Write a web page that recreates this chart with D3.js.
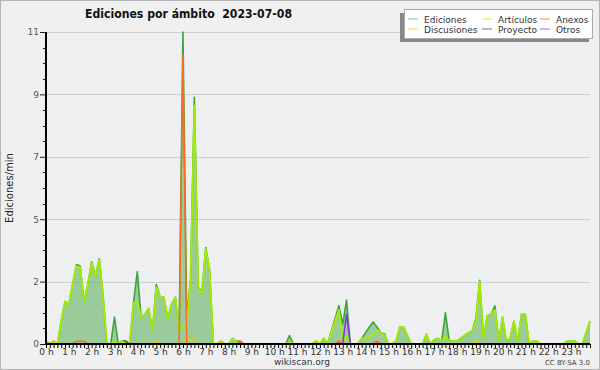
<!DOCTYPE html>
<html>
<head>
<meta charset="utf-8">
<script src="https://cdn.jsdelivr.net/npm/d3@7"></script>
<style>
  body { margin: 0; background: #fff; }
  svg { display: block; }
</style>
</head>
<body>
<script>
var width = 600, height = 370;

// one value every 10 minutes, 00:00 .. 23:50 (edits per minute)
var ediciones = [
  0.1, 0, 0.1, 0, 0.8, 1.5,
  1.4, 2.1, 2.8, 2.75, 1.5, 2.1,
  2.9, 2.4, 3.0, 1.7, 0, 0,
  0.95, 0, 0.1, 0.1, 0, 1.45,
  2.55, 0.95, 1.05, 1.25, 0.5, 2.1,
  1.65, 1.65, 0.9, 1.4, 1.65, 0.45,
  11, 0.9, 2.3, 8.7, 2.0, 1.85,
  3.4, 2.6, 0, 0, 0.1, 0,
  0, 0.2, 0.1, 0.1, 0, 0,
  0, 0, 0, 0, 0, 0,
  0, 0, 0, 0, 0.3, 0,
  0, 0, 0, 0, 0, 0.1,
  0, 0.2, 0, 0.45, 0.9, 1.35,
  0.7, 1.55, 0, 0, 0, 0.2,
  0.4, 0.6, 0.78, 0.6, 0.4, 0.35,
  0, 0, 0.1, 0.6, 0.6, 0.3,
  0, 0, 0, 0, 0.35, 0,
  0.15, 0.2, 0.1, 1.1, 0.1, 0.1,
  0.1, 0.2, 0.3, 0.4, 0.45, 0.9,
  2.25, 0.2, 1.0, 1.05, 1.35, 0.1,
  0.95, 0.1, 0.2, 0.8, 0.1, 1.05,
  1.05, 0, 0.1, 0.1, 0, 0,
  0, 0, 0, 0, 0, 0.1,
  0.1, 0.1, 0, 0, 0.4, 0.8
];
var articulos = [
  0.1, 0, 0, 0, 0.8, 1.5,
  1.4, 2.1, 2.75, 2.7, 1.5, 2.1,
  2.85, 2.4, 2.95, 1.7, 0, 0,
  0.1, 0, 0.1, 0, 0, 1.45,
  1.5, 0.95, 1.05, 1.25, 0.45, 2.0,
  1.65, 1.65, 0.9, 1.4, 1.65, 0.45,
  0.6, 0.7, 2.2, 8.4, 1.95, 1.8,
  3.35, 2.6, 0, 0, 0, 0,
  0, 0.2, 0.1, 0, 0, 0,
  0, 0, 0, 0, 0, 0,
  0, 0, 0, 0, 0.1, 0,
  0, 0, 0, 0, 0, 0.1,
  0, 0.2, 0, 0.4, 0.8, 1.2,
  0.1, 0.3, 0, 0, 0, 0.2,
  0.2, 0.25, 0.35, 0.5, 0.4, 0.3,
  0, 0, 0.1, 0.6, 0.6, 0.3,
  0, 0, 0, 0, 0.35, 0,
  0.15, 0.2, 0.1, 0.3, 0.1, 0.1,
  0.1, 0.2, 0.3, 0.4, 0.45, 0.8,
  2.2, 0.2, 1.0, 1.05, 1.2, 0.1,
  0.95, 0.1, 0.2, 0.8, 0.1, 1.05,
  1.05, 0, 0.1, 0.1, 0, 0,
  0, 0, 0, 0, 0, 0.1,
  0.1, 0.1, 0, 0, 0.4, 0.8
];
var anexos = [
  0, 0, 0, 0, 0, 0,
  0, 0, 0.1, 0.1, 0.1, 0,
  0, 0, 0, 0, 0, 0,
  0, 0, 0, 0, 0, 0,
  0, 0, 0, 0, 0, 0,
  0, 0, 0, 0, 0, 0,
  10.2, 0, 0, 0, 0, 0,
  0, 0, 0, 0, 0, 0,
  0, 0, 0, 0.1, 0, 0,
  0, 0, 0, 0, 0, 0,
  0, 0, 0, 0, 0, 0,
  0, 0, 0, 0, 0, 0,
  0, 0, 0, 0, 0, 0.1,
  0, 0, 0, 0, 0, 0,
  0, 0, 0, 0.1, 0, 0,
  0, 0, 0, 0, 0, 0,
  0, 0, 0, 0, 0, 0,
  0, 0, 0, 0, 0, 0,
  0, 0, 0, 0, 0, 0,
  0, 0, 0, 0, 0, 0,
  0, 0, 0, 0, 0, 0,
  0, 0, 0, 0, 0, 0,
  0, 0, 0, 0, 0, 0,
  0, 0, 0, 0, 0, 0
];
var discusiones = [
  0, 0, 0.1, 0, 0, 0,
  0, 0, 0, 0, 0, 0,
  0, 0, 0, 0, 0, 0,
  0, 0, 0, 0, 0, 0,
  0, 0, 0, 0, 0, 0.1,
  0, 0, 0, 0, 0, 0,
  0, 0.25, 0.1, 0.2, 0, 0,
  0, 0, 0, 0, 0.1, 0,
  0, 0, 0, 0, 0, 0,
  0, 0, 0, 0, 0, 0,
  0, 0, 0, 0, 0, 0,
  0, 0, 0, 0, 0, 0,
  0, 0, 0, 0, 0, 0,
  0, 0, 0, 0, 0, 0,
  0, 0, 0, 0, 0, 0,
  0, 0, 0, 0, 0, 0,
  0, 0, 0, 0, 0, 0,
  0, 0, 0, 0, 0, 0,
  0, 0, 0, 0, 0, 0.1,
  0, 0, 0, 0, 0, 0,
  0, 0, 0, 0, 0, 0,
  0, 0, 0, 0, 0, 0,
  0, 0, 0, 0, 0, 0,
  0, 0, 0, 0, 0, 0
];
var proyecto = [
  0, 0, 0, 0, 0, 0,
  0, 0, 0, 0, 0, 0,
  0, 0, 0, 0, 0, 0,
  0, 0, 0.1, 0.1, 0, 0,
  0, 0, 0, 0, 0, 0,
  0, 0, 0, 0, 0, 0,
  0, 0, 0, 0, 0, 0,
  0, 0, 0, 0, 0, 0,
  0, 0, 0, 0, 0, 0,
  0, 0, 0, 0, 0, 0,
  0, 0, 0, 0, 0, 0,
  0, 0, 0, 0, 0, 0,
  0, 0, 0, 0, 0, 0,
  0, 0, 0, 0, 0, 0,
  0, 0, 0, 0, 0, 0,
  0, 0, 0, 0, 0, 0,
  0, 0, 0, 0, 0, 0,
  0, 0, 0, 0, 0, 0,
  0, 0, 0, 0, 0, 0,
  0, 0, 0, 0, 0, 0,
  0, 0, 0, 0, 0, 0,
  0, 0, 0, 0, 0, 0,
  0, 0, 0, 0, 0, 0,
  0, 0, 0, 0, 0, 0
];
var otros = [
  0, 0, 0, 0, 0, 0,
  0, 0, 0, 0, 0, 0,
  0, 0, 0, 0, 0, 0,
  0, 0, 0, 0, 0, 0,
  0, 0, 0, 0, 0, 0,
  0, 0, 0, 0, 0, 0,
  0, 0, 0, 0, 0, 0,
  0, 0, 0, 0, 0, 0,
  0, 0, 0, 0, 0, 0,
  0, 0, 0, 0, 0, 0,
  0, 0, 0, 0, 0, 0,
  0, 0, 0, 0, 0, 0,
  0, 0, 0, 0, 0, 0,
  0, 1.05, 0, 0, 0, 0,
  0, 0, 0, 0, 0, 0,
  0, 0, 0, 0, 0, 0,
  0, 0, 0, 0, 0, 0,
  0, 0, 0, 0, 0, 0,
  0, 0, 0, 0, 0, 0,
  0, 0, 0, 0, 0, 0,
  0, 0, 0, 0, 0, 0,
  0, 0, 0, 0, 0, 0,
  0, 0, 0, 0, 0, 0,
  0, 0, 0, 0, 0, 0
];

var hourLabels = ['0 h','1 h','2 h','3 h','4 h','5 h','6 h','7 h','8 h','9 h','10 h','11 h',
  '12 h','13 h','14 h','15 h','16 h','17 h','18 h','19 h','20 h','21 h','22 h','23 h'];
var yTicks = [0, 2.2, 4.4, 6.6, 8.8, 11];
var yTickLabels = ['0', '2', '5', '7', '9', '11'];

var legendNames = ['Ediciones', 'Artículos', 'Anexos', 'Discusiones', 'Proyecto', 'Otros'];
var colors = {
  'Ediciones': '#3fa43f',
  'Artículos': '#a6ec00',
  'Anexos': '#ff6a26',
  'Discusiones': '#f8c700',
  'Proyecto': '#555555',
  'Otros': '#8f2cf0'
};
var legendSwatch = {
  'Ediciones': '#7ccf7c',
  'Artículos': '#ccf53d',
  'Anexos': '#ff8a55',
  'Discusiones': '#fbd64a',
  'Proyecto': '#777777',
  'Otros': '#a65cf5'
};

var plotLeft = 46, plotRight = 590, plotTop = 32, plotBottom = 344;

var x = d3.scaleLinear().domain([0, 143]).range([plotLeft, plotRight]);
var y = d3.scaleLinear().domain([0, 11]).range([plotBottom, plotTop]);

var svg = d3.select('body').append('svg')
    .attr('width', width)
    .attr('height', height)
    .style('font-family', '"DejaVu Sans", sans-serif');

// background + frame
svg.append('rect')
    .attr('x', 0.5).attr('y', 0.5)
    .attr('width', width - 1).attr('height', height - 1)
    .attr('fill', '#f0f0f0')
    .attr('stroke', '#b5b5b5');

svg.append('rect')
    .attr('x', plotLeft).attr('y', plotTop)
    .attr('width', plotRight - plotLeft).attr('height', plotBottom - plotTop)
    .attr('fill', '#eeeff1');

// horizontal grid
svg.append('g').selectAll('line')
    .data(yTicks.slice(1))
    .enter().append('line')
    .attr('x1', plotLeft).attr('x2', plotRight)
    .attr('y1', function(d){ return Math.round(y(d)) + 0.5; })
    .attr('y2', function(d){ return Math.round(y(d)) + 0.5; })
    .attr('stroke', '#cfcfcf')
    .attr('stroke-width', 1);

// Ediciones area
var area = d3.area()
    .x(function(d, i){ return x(i); })
    .y0(y(0))
    .y1(function(d){ return y(d); });

svg.append('path')
    .datum(ediciones)
    .attr('d', area)
    .attr('fill', '#44aa44')
    .attr('fill-opacity', 0.5);

var line = d3.line()
    .x(function(d, i){ return x(i); })
    .y(function(d){ return y(d); });

function drawLine(values, color, w) {
    svg.append('path')
        .datum(values)
        .attr('d', line)
        .attr('fill', 'none')
        .attr('stroke', color)
        .attr('stroke-width', w)
        .attr('stroke-linejoin', 'round');
}

drawLine(ediciones, colors['Ediciones'], 1.6);
drawLine(proyecto, colors['Proyecto'], 1.3);
drawLine(discusiones, colors['Discusiones'], 1.3);
drawLine(articulos, colors['Artículos'], 1.8);
drawLine(otros, colors['Otros'], 1.5);
drawLine(anexos, colors['Anexos'], 1.5);

// y axis
var yAxis = d3.axisLeft(y)
    .tickValues(yTicks)
    .tickFormat(function(d, i){ return yTickLabels[i]; })
    .tickSize(6)
    .tickPadding(1);

var yAxisG = svg.append('g')
    .attr('transform', 'translate(' + plotLeft + ',0)')
    .call(yAxis);
yAxisG.select('.domain').remove();
yAxisG.selectAll('line').attr('stroke', '#222');
yAxisG.selectAll('text')
    .attr('font-size', '9px')
    .attr('fill', '#555')
    .attr('font-family', '"DejaVu Sans", sans-serif');

// minor y ticks (quarters of each interval)
var minorY = [];
for (var k = 0; k < yTicks.length - 1; k++) {
    for (var q = 1; q < 4; q++) {
        minorY.push(yTicks[k] + (yTicks[k + 1] - yTicks[k]) * q / 4);
    }
}
svg.append('g').selectAll('line')
    .data(minorY)
    .enter().append('line')
    .attr('x1', plotLeft - 3).attr('x2', plotLeft)
    .attr('y1', function(d){ return Math.round(y(d)) + 0.5; })
    .attr('y2', function(d){ return Math.round(y(d)) + 0.5; })
    .attr('stroke', '#222');

svg.append('line')
    .attr('x1', plotLeft).attr('x2', plotLeft)
    .attr('y1', plotTop).attr('y2', plotBottom + 1)
    .attr('stroke', '#000')
    .attr('stroke-width', 2);

// x axis
var xTicks = d3.range(0, 144);
var xAxis = d3.axisBottom(x)
    .tickValues(xTicks)
    .tickSize(4)
    .tickFormat(function(d){ return d % 6 === 0 ? hourLabels[d / 6] : ''; })
    .tickPadding(1);

var xAxisG = svg.append('g')
    .attr('transform', 'translate(0,' + plotBottom + ')')
    .call(xAxis);
xAxisG.select('.domain').remove();
xAxisG.selectAll('line').attr('stroke', '#000');
xAxisG.selectAll('text')
    .attr('font-size', '9px')
    .attr('fill', '#333')
    .attr('font-family', '"DejaVu Sans", sans-serif');

svg.append('line')
    .attr('x1', plotLeft).attr('x2', plotRight)
    .attr('y1', plotBottom).attr('y2', plotBottom)
    .attr('stroke', '#000')
    .attr('stroke-width', 2);

// titles
svg.append('text')
    .attr('x', 85).attr('y', 18)
    .attr('font-size', '12px')
    .attr('font-weight', 'bold')
    .attr('fill', '#111')
    .attr('textLength', 207)
    .attr('lengthAdjust', 'spacingAndGlyphs')
    .style('white-space', 'pre')
    .text('Ediciones por ámbito  2023-07-08');

svg.append('text')
    .attr('transform', 'translate(13,' + 188 + ') rotate(-90)')
    .attr('text-anchor', 'middle')
    .attr('font-size', '10px')
    .attr('fill', '#222')
    .text('Ediciones/min');

svg.append('text')
    .attr('x', 302).attr('y', 365)
    .attr('text-anchor', 'middle')
    .attr('font-size', '9px')
    .attr('fill', '#333')
    .text('wikiscan.org');

svg.append('text')
    .attr('x', 590).attr('y', 365)
    .attr('text-anchor', 'end')
    .attr('font-size', '7px')
    .attr('fill', '#444')
    .text('CC BY-SA 3.0');

// legend
var lg = svg.append('g');
lg.append('rect')
    .attr('x', 400).attr('y', 13)
    .attr('width', 189).attr('height', 29)
    .attr('fill', '#888');
lg.append('rect')
    .attr('x', 404.5).attr('y', 9.5)
    .attr('width', 188).attr('height', 29)
    .attr('fill', '#fff')
    .attr('stroke', '#aaa');

var colX = [408, 482, 540];
var rowY = [19, 29];
var item = lg.selectAll('g.item')
    .data(legendNames)
    .enter().append('g')
    .attr('class', 'item')
    .attr('transform', function(d, i){
        return 'translate(' + colX[i % 3] + ',' + rowY[Math.floor(i / 3)] + ')';
    });
item.append('line')
    .attr('x1', 0).attr('x2', 10)
    .attr('y1', 0).attr('y2', 0)
    .attr('stroke', function(d){ return legendSwatch[d]; })
    .attr('stroke-width', 1);
item.append('text')
    .attr('x', 16).attr('y', 3.5)
    .attr('font-size', '9px')
    .attr('fill', '#333')
    .text(function(d){ return d; });
</script>
</body>
</html>
